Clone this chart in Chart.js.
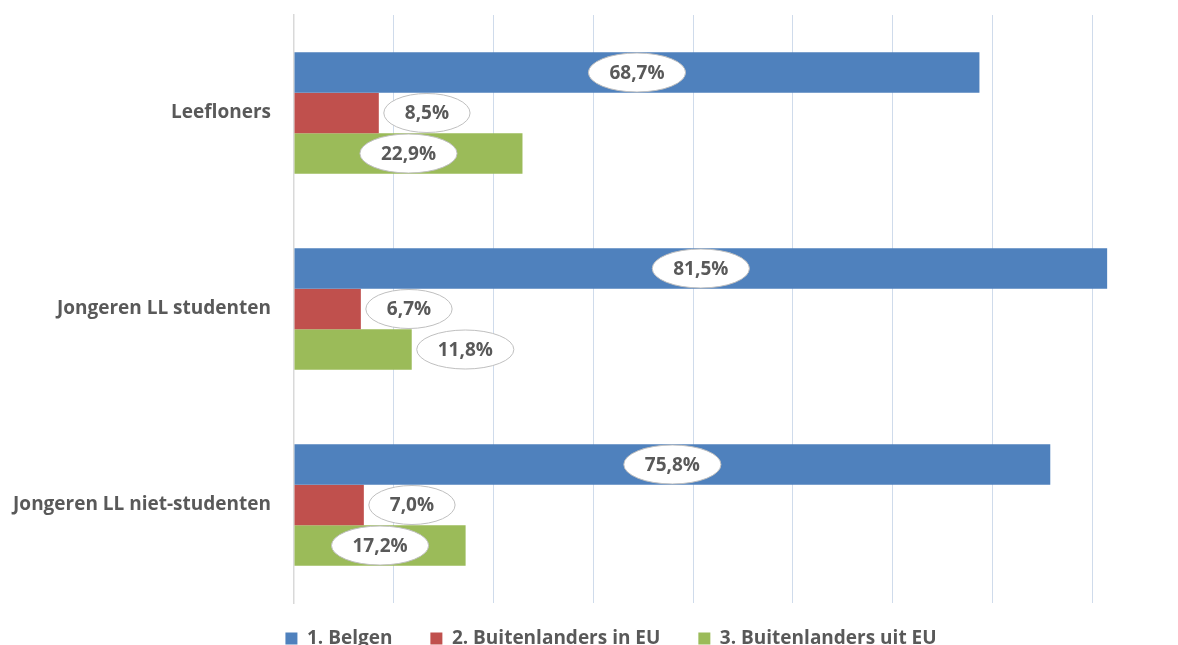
<!DOCTYPE html>
<html>
<head>
<meta charset="utf-8">
<script src="https://cdn.jsdelivr.net/npm/chart.js@4.4.0/dist/chart.umd.min.js"></script>
<style>
  html, body { margin: 0; padding: 0; background: #fff; overflow: hidden; }
  #wrap { width: 1178px; height: 645px; overflow: hidden; }
</style>
</head>
<body>
<div id="wrap"><canvas id="chart" width="1178" height="670"></canvas></div>
<script>
const categories = ['Leefloners', 'Jongeren LL studenten', 'Jongeren LL niet-studenten'];
const seriesNames = ['1. Belgen', '2. Buitenlanders in EU', '3. Buitenlanders uit EU'];
const belgen = [68.7, 81.5, 75.8];
const binnenEU = [8.5, 6.7, 7.0];
const buitenEU = [22.9, 11.8, 17.2];
const gridTicks = [0, 10, 20, 30, 40, 50, 60, 70, 80];
const colors = ['#4f81bd', '#c0504d', '#9bbb59'];

const textGray = '#595959';
const fontName = '"Open Sans"';

// witte ovale labels met de waarde, zoals in Excel
const ovalLabels = {
    id: 'ovalLabels',
    afterDatasetsDraw(chart) {
        const ctx = chart.ctx;
        ctx.save();
        ctx.font = 'bold 19px ' + fontName;
        ctx.textAlign = 'center';
        ctx.textBaseline = 'middle';
        chart.data.datasets.forEach((ds, di) => {
            chart.getDatasetMeta(di).data.forEach((bar, i) => {
                const txt = ds.data[i].toFixed(1).replace('.', ',') + '%';
                const rx = ctx.measureText(txt).width / 2 + 21;
                const ry = 19.5;
                const len = bar.x - bar.base;
                // te korte balk: label rechts van de balk
                const cx = len < 2 * rx + 25 ? bar.x + 5 + rx : bar.base + len / 2;
                ctx.beginPath();
                ctx.ellipse(cx, bar.y, rx, ry, 0, 0, Math.PI * 2);
                ctx.fillStyle = '#fff';
                ctx.fill();
                ctx.strokeStyle = '#bfbfbf';
                ctx.lineWidth = 1;
                ctx.stroke();
                ctx.fillStyle = textGray;
                ctx.fillText(txt, cx, bar.y + 1);
            });
        });
        ctx.restore();
    }
};

// legende iets hoger en meer naar rechts, zoals in het origineel
const legendShift = {
    id: 'legendShift',
    afterLayout(chart) {
        const lg = chart.legend;
        const h = lg.bottom - lg.top;
        lg.top = chart.chartArea.bottom + 35.5 - lg.options.labels.padding - 9.5;
        lg.bottom = lg.top + h;
        lg.left += 25;
        lg.right += 25;
    }
};

const ctx = document.getElementById('chart').getContext('2d');
new Chart(ctx, {
    type: 'bar',
    data: {
        labels: categories,
        datasets: [
            { label: seriesNames[0], data: belgen, backgroundColor: colors[0] },
            { label: seriesNames[1], data: binnenEU, backgroundColor: colors[1] },
            { label: seriesNames[2], data: buitenEU, backgroundColor: colors[2] }
        ]
    },
    options: {
        indexAxis: 'y',
        responsive: false,
        animation: false,
        devicePixelRatio: 1,
        barPercentage: 1,
        categoryPercentage: 0.62,
        layout: { padding: { top: 15, right: 6, left: 0, bottom: 0 } },
        scales: {
            x: {
                min: 0,
                max: 88,
                afterBuildTicks(s) { s.ticks = gridTicks.map(v => ({ value: v })); },
                afterFit(s) { s.height = 0; s.paddingLeft = 0; s.paddingRight = 0; },
                ticks: { display: false },
                grid: {
                    color: c => (c.tick && c.tick.value === 0) ? 'rgba(0,0,0,0)' : '#cfdbeb',
                    drawTicks: false
                },
                border: { display: false }
            },
            y: {
                afterFit(s) { s.width = 294; s.paddingTop = 0; s.paddingBottom = 0; },
                grid: { display: false, drawTicks: false },
                border: { color: '#d9d9d9', width: 1.5 },
                ticks: {
                    color: textGray,
                    padding: 23,
                    font: { family: fontName, weight: 'bold', size: 19 }
                }
            }
        },
        plugins: {
            tooltip: { enabled: false },
            legend: {
                position: 'bottom',
                labels: {
                    boxWidth: 12,
                    boxHeight: 12,
                    padding: 38,
                    color: textGray,
                    font: { family: fontName, weight: 'bold', size: 19 }
                }
            }
        }
    },
    plugins: [ovalLabels, legendShift]
});
</script>
</body>
</html>
